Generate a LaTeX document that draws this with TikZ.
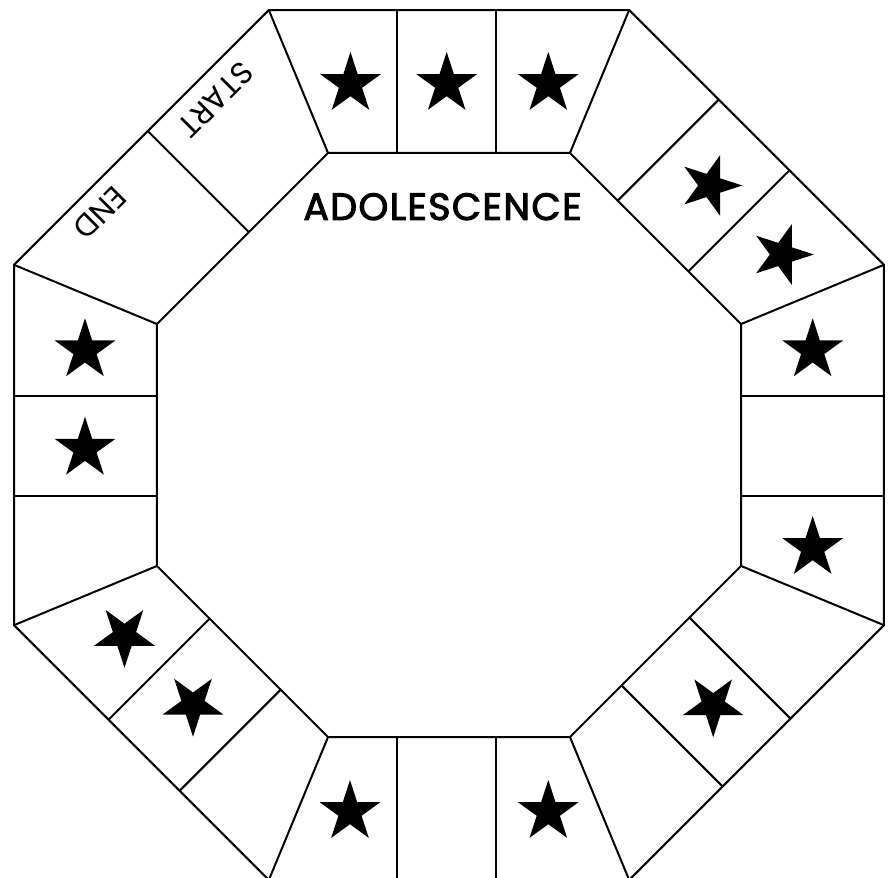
\documentclass[tikz,border=0pt]{standalone}
\usepackage{fontspec}
\setmainfont{Poppins}
\newfontfamily\titlefont{Poppins}[FakeBold=2.6, LetterSpace=3.5]
\usetikzlibrary{calc}

\tikzset{
  board/.style={line width=2pt, line join=miter},
  pics/starmark/.style={code={
    \fill (90:32) -- (126:12.2) -- (162:32) -- (198:12.2) -- (234:32)
      -- (270:12.2) -- (306:32) -- (342:12.2) -- (18:32) -- (54:12.2) -- cycle;
  }},
  titlelbl/.style={font=\titlefont\fontsize{38}{38}\selectfont, inner sep=0pt},
  celllbl/.style={font=\fontsize{31}{31}\selectfont, inner sep=0pt, rotate=-135},
}

\begin{document}
\begin{tikzpicture}[x=1pt, y=1pt]
  \useasboundingbox (-449,-433) rectangle (440,445);

  % corners of the outer and inner octagon
  \foreach \k in {1,...,8} {
    \coordinate (o\k) at ({112.5-45*(\k-1)}:470.8);
    \coordinate (i\k) at ({112.5-45*(\k-1)}:316.1);
  }

  % track outline
  \draw[board] (o1) -- (o2) -- (o3) -- (o4) -- (o5) -- (o6) -- (o7) -- (o8) -- cycle;
  \draw[board] (i1) -- (i2) -- (i3) -- (i4) -- (i5) -- (i6) -- (i7) -- (i8) -- cycle;
  \foreach \k in {1,...,8}
    \draw[board] (i\k) -- (o\k);

  % cell dividers, side by side (rotation of side / offset along side)
  \foreach \rot/\t in {0/-52, 0/47, -45/-53.5, -45/46.5, -90/-49, -90/51,
                       -135/-48, -135/48, -180/-47, -180/52, 135/-54, 135/46.5,
                       90/-51, 90/49, 45/9}
    \draw[board, rotate=\rot] (\t,292) -- (\t,435);

  % stars
  \pic at (-98.5,361) {starmark};
  \pic at (-2.3,361) {starmark};
  \pic at (99.3,361) {starmark};
  \pic[rotate=-18] at (261.3,259.5) {starmark};
  \pic[rotate=-18] at (333,190.5) {starmark};
  \pic at (363.7,94.7) {starmark};
  \pic at (363.7,-103) {starmark};
  \pic[rotate=180] at (264.2,-260.3) {starmark};
  \pic at (99.3,-367) {starmark};
  \pic at (-99,-367) {starmark};
  \pic[rotate=180] at (-256,-259.7) {starmark};
  \pic[rotate=180] at (-324.5,-190.9) {starmark};
  \pic at (-364,-3.7) {starmark};
  \pic at (-364,94.7) {starmark};

  % labels
  \node[titlelbl] (title) at (-6.5,238.3) {ADOLESCENCE};
  \node[celllbl] (startlbl) at (-233,345) {START};
  \node[celllbl] (endlbl) at (-349,232) {END};
\end{tikzpicture}
\end{document}
